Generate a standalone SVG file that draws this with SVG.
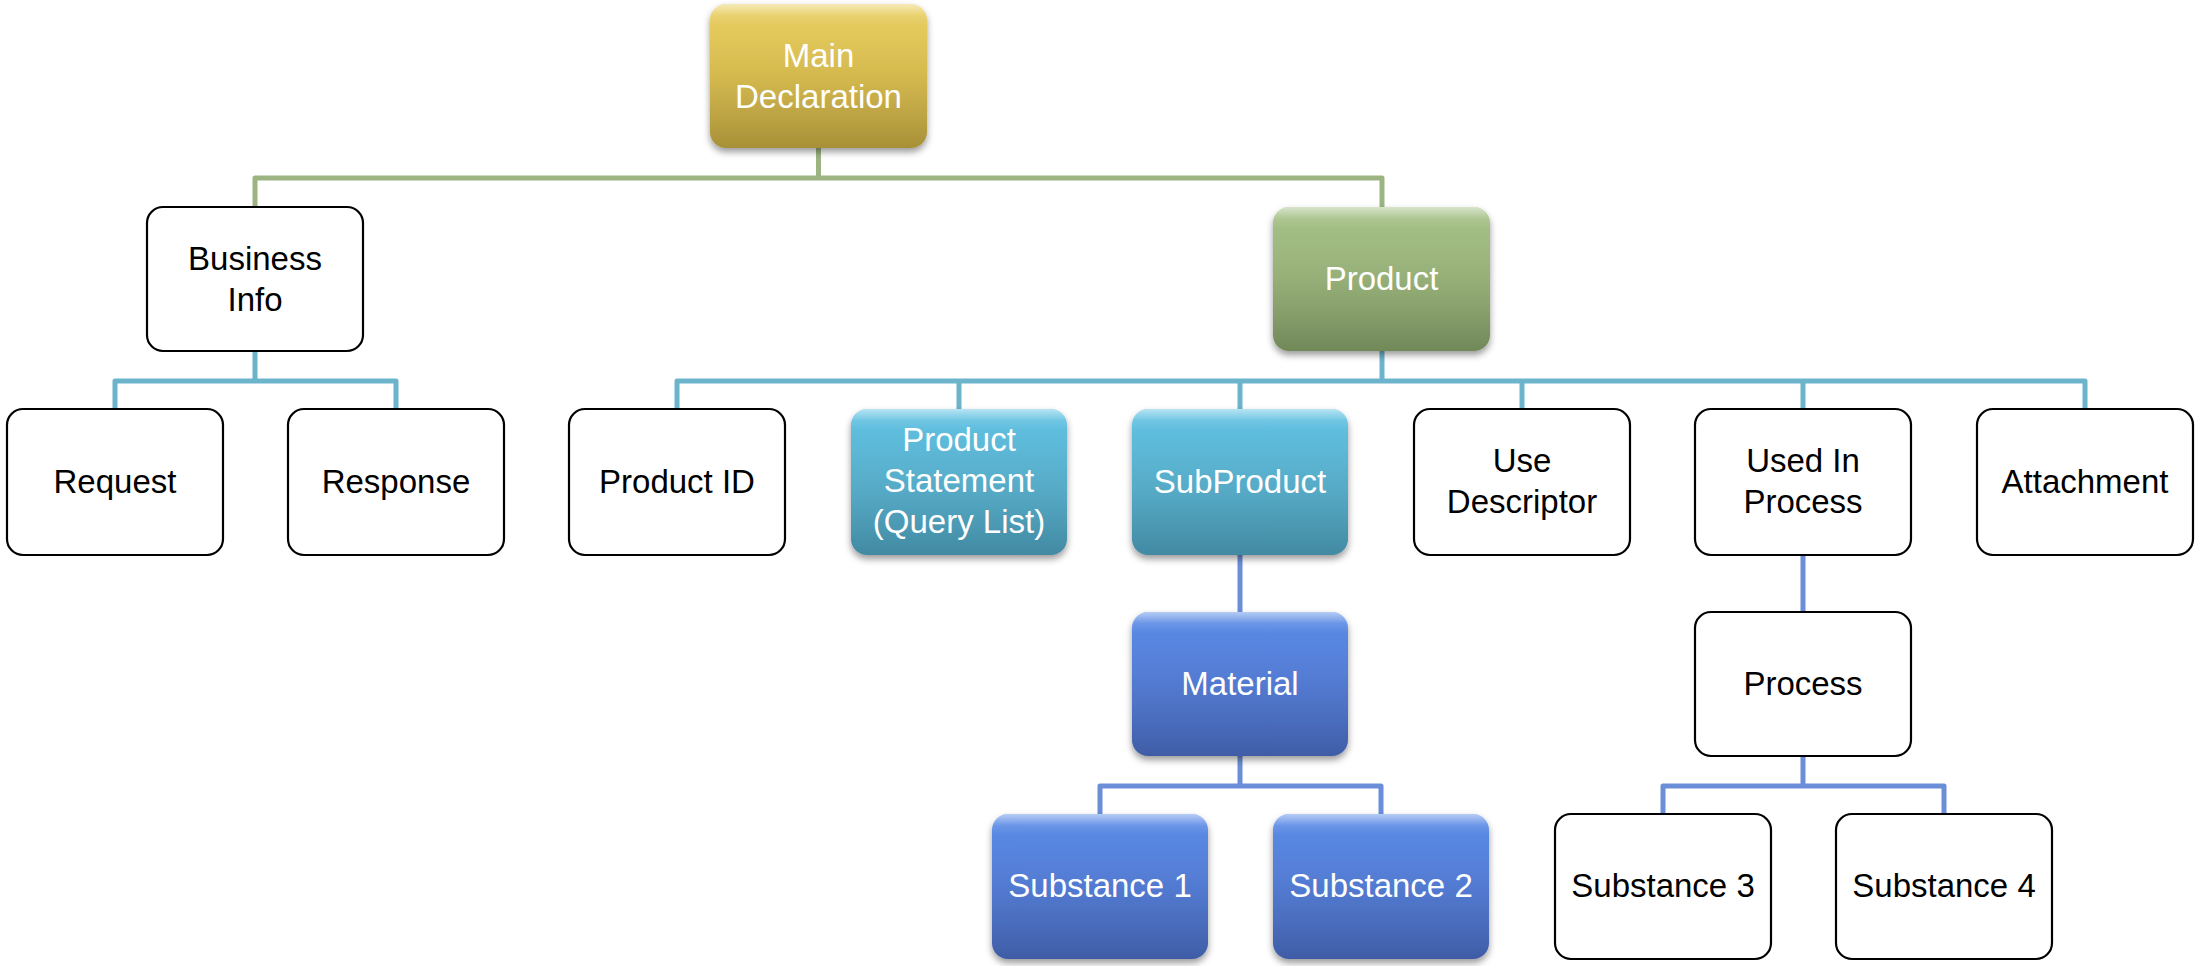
<svg xmlns="http://www.w3.org/2000/svg" width="2196" height="966" viewBox="0 0 2196 966">
<defs>
<linearGradient id="gGold" x1="0" y1="0" x2="0" y2="1"><stop offset="0" stop-color="#EAD064"/><stop offset="0.5" stop-color="#D6BA4C"/><stop offset="1" stop-color="#B69C3C"/></linearGradient>
<linearGradient id="gGreen" x1="0" y1="0" x2="0" y2="1"><stop offset="0" stop-color="#A8C38A"/><stop offset="0.5" stop-color="#96B077"/><stop offset="1" stop-color="#7A9460"/></linearGradient>
<linearGradient id="gCyan" x1="0" y1="0" x2="0" y2="1"><stop offset="0" stop-color="#62C3E4"/><stop offset="0.5" stop-color="#55AECB"/><stop offset="1" stop-color="#4795B0"/></linearGradient>
<linearGradient id="gBlue" x1="0" y1="0" x2="0" y2="1"><stop offset="0" stop-color="#5C8DE8"/><stop offset="0.5" stop-color="#5079D3"/><stop offset="1" stop-color="#4464B4"/></linearGradient>
<linearGradient id="gHi" x1="0" y1="0" x2="0" y2="1"><stop offset="0" stop-color="#FFFFFF" stop-opacity="0.55"/><stop offset="0.08" stop-color="#FFFFFF" stop-opacity="0.1"/><stop offset="0.15" stop-color="#FFFFFF" stop-opacity="0"/><stop offset="1" stop-color="#000000" stop-opacity="0.08"/></linearGradient>
<filter id="shadow" x="-10%" y="-10%" width="120%" height="125%"><feDropShadow dx="0" dy="4" stdDeviation="3.5" flood-color="#000" flood-opacity="0.4"/></filter>
<style>
.wb{fill:#FFFFFF;stroke:#000000;stroke-width:2.2}
.cb{stroke:none;filter:url(#shadow)}
.hi{fill:url(#gHi);stroke:none}
.t{font-family:"Liberation Sans",Arial,sans-serif;font-size:33px;text-anchor:middle}
.tw{fill:#FFFFFF}
.tk{fill:#000000}
.cg{fill:none;stroke:#9CB482;stroke-width:5;stroke-linejoin:round}
.cc{fill:none;stroke:#6CB3CC;stroke-width:5;stroke-linejoin:round}
.cbl{fill:none;stroke:#6B8ED8;stroke-width:5;stroke-linejoin:round}
</style>
</defs>
<rect width="2196" height="966" fill="#FFFFFF"/>
<g id="connectors">
<path class="cg" d="M818.5,148 V178 M255,207 V178 H1382 V207"/>
<path class="cc" d="M255,351 V381 M115,409 V381 H396 V409"/>
<path class="cc" d="M1382,351 V381 M677,409 V381 H2085 V409 M959,381 V409 M1240,381 V409 M1522,381 V409 M1803,381 V409"/>
<path class="cbl" d="M1240,555 V612 M1240,756 V786 M1100,814 V786 H1381 V814"/>
<path class="cbl" d="M1803,555 V612 M1803,756 V786 M1663,814 V786 H1944 V814"/>
</g>
<g id="main-declaration">
<rect class="cb" x="710" y="4" width="217" height="144" rx="16" fill="url(#gGold)"/>
<rect class="hi" x="710" y="4" width="217" height="144" rx="16"/>
<text class="t tw" x="818.5" y="67">Main</text>
<text class="t tw" x="818.5" y="108">Declaration</text>
</g>
<g id="business-info">
<rect class="wb" x="147" y="207" width="216" height="144" rx="16"/>
<text class="t tk" x="255" y="270">Business</text>
<text class="t tk" x="255" y="311">Info</text>
</g>
<g id="product">
<rect class="cb" x="1273" y="207" width="217" height="144" rx="16" fill="url(#gGreen)"/>
<rect class="hi" x="1273" y="207" width="217" height="144" rx="16"/>
<text class="t tw" x="1381.5" y="290">Product</text>
</g>
<g id="request">
<rect class="wb" x="7" y="409" width="216" height="146" rx="16"/>
<text class="t tk" x="115" y="493">Request</text>
</g>
<g id="response">
<rect class="wb" x="288" y="409" width="216" height="146" rx="16"/>
<text class="t tk" x="396" y="493">Response</text>
</g>
<g id="product-id">
<rect class="wb" x="569" y="409" width="216" height="146" rx="16"/>
<text class="t tk" x="677" y="493">Product ID</text>
</g>
<g id="product-statement">
<rect class="cb" x="851" y="409" width="216" height="146" rx="16" fill="url(#gCyan)"/>
<rect class="hi" x="851" y="409" width="216" height="146" rx="16"/>
<text class="t tw" x="959" y="451">Product</text>
<text class="t tw" x="959" y="492">Statement</text>
<text class="t tw" x="959" y="533">(Query List)</text>
</g>
<g id="subproduct">
<rect class="cb" x="1132" y="409" width="216" height="146" rx="16" fill="url(#gCyan)"/>
<rect class="hi" x="1132" y="409" width="216" height="146" rx="16"/>
<text class="t tw" x="1240" y="493">SubProduct</text>
</g>
<g id="use-descriptor">
<rect class="wb" x="1414" y="409" width="216" height="146" rx="16"/>
<text class="t tk" x="1522" y="472">Use</text>
<text class="t tk" x="1522" y="513">Descriptor</text>
</g>
<g id="used-in-process">
<rect class="wb" x="1695" y="409" width="216" height="146" rx="16"/>
<text class="t tk" x="1803" y="472">Used In</text>
<text class="t tk" x="1803" y="513">Process</text>
</g>
<g id="attachment">
<rect class="wb" x="1977" y="409" width="216" height="146" rx="16"/>
<text class="t tk" x="2085" y="493">Attachment</text>
</g>
<g id="material">
<rect class="cb" x="1132" y="612" width="216" height="144" rx="16" fill="url(#gBlue)"/>
<rect class="hi" x="1132" y="612" width="216" height="144" rx="16"/>
<text class="t tw" x="1240" y="695">Material</text>
</g>
<g id="process">
<rect class="wb" x="1695" y="612" width="216" height="144" rx="16"/>
<text class="t tk" x="1803" y="695">Process</text>
</g>
<g id="substance-1">
<rect class="cb" x="992" y="814" width="216" height="145" rx="16" fill="url(#gBlue)"/>
<rect class="hi" x="992" y="814" width="216" height="145" rx="16"/>
<text class="t tw" x="1100" y="897">Substance 1</text>
</g>
<g id="substance-2">
<rect class="cb" x="1273" y="814" width="216" height="145" rx="16" fill="url(#gBlue)"/>
<rect class="hi" x="1273" y="814" width="216" height="145" rx="16"/>
<text class="t tw" x="1381" y="897">Substance 2</text>
</g>
<g id="substance-3">
<rect class="wb" x="1555" y="814" width="216" height="145" rx="16"/>
<text class="t tk" x="1663" y="897">Substance 3</text>
</g>
<g id="substance-4">
<rect class="wb" x="1836" y="814" width="216" height="145" rx="16"/>
<text class="t tk" x="1944" y="897">Substance 4</text>
</g>
</svg>
